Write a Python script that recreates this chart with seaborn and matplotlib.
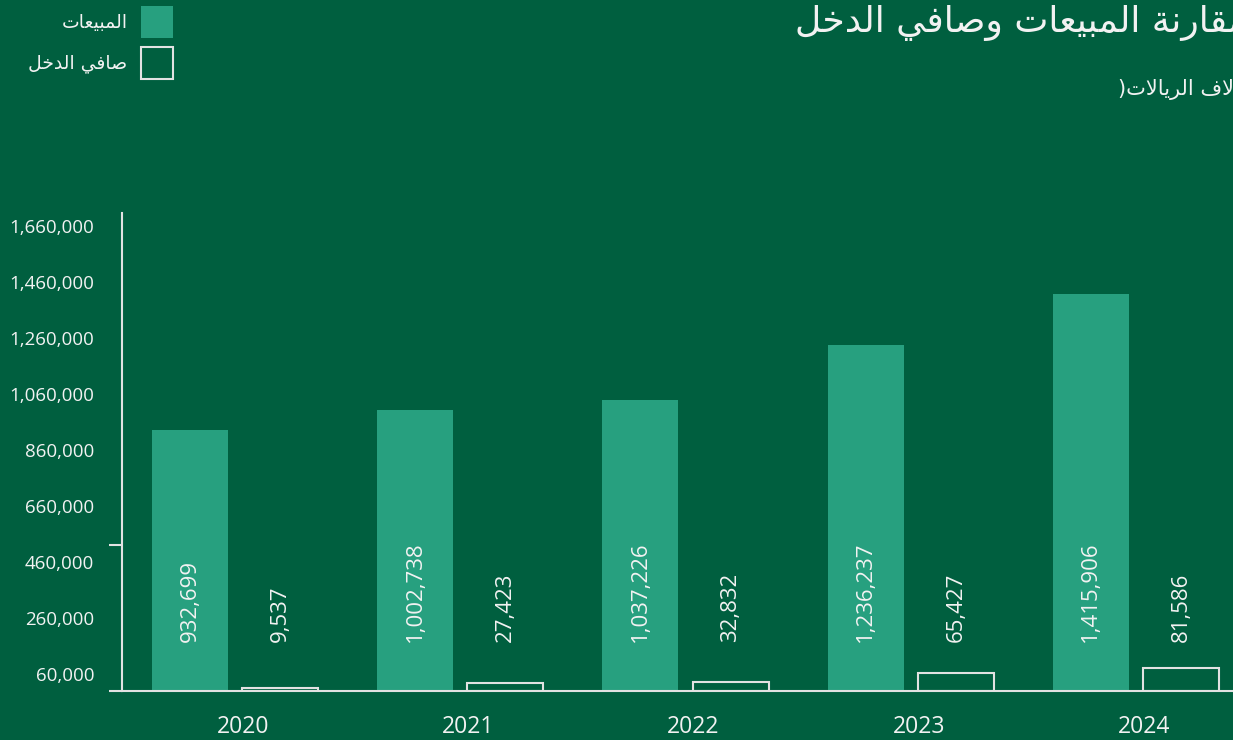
"""Sales vs net income bar chart (Arabic labels) on a dark green card."""

import matplotlib

matplotlib.use("Agg")

import matplotlib.pyplot as plt
import pandas as pd
import seaborn as sns
from matplotlib.patches import Patch
from matplotlib.ticker import FixedLocator, FuncFormatter
from matplotlib.transforms import ScaledTranslation


YEARS = ["2020", "2021", "2022", "2023", "2024"]
SALES = [932699, 1002738, 1037226, 1236237, 1415906]
NET_INCOME = [9537, 27423, 32832, 65427, 81586]
Y_TICKS = [60000, 260000, 460000, 660000, 860000, 1060000, 1260000, 1460000, 1660000]
SERIES = ["المبيعات", "صافي الدخل"]
TITLE = "مقارنة المبيعات وصافي الدخل"
SUBTITLE = "(بآلاف الريالات)"

BG = "#005F3F"
TEAL = "#27A07F"
LINE = "#E2E2E2"
TEXT = "#F2F2F2"

# matplotlib has no Arabic shaping, so map letters to presentation forms
# (isolated code point, dual-joining?) and lay them out right to left.
ARABIC_FORMS = {
    "\u0622": (0xFE81, False),
    "\u0627": (0xFE8D, False),
    "\u0628": (0xFE8F, True),
    "\u0629": (0xFE93, False),
    "\u062A": (0xFE95, True),
    "\u062E": (0xFEA5, True),
    "\u062F": (0xFEA9, False),
    "\u0631": (0xFEAD, False),
    "\u0635": (0xFEB9, True),
    "\u0639": (0xFEC9, True),
    "\u0641": (0xFED1, True),
    "\u0642": (0xFED5, True),
    "\u0644": (0xFEDD, True),
    "\u0645": (0xFEE1, True),
    "\u0646": (0xFEE5, True),
    "\u0648": (0xFEED, False),
    "\u064A": (0xFEF1, True),
}
LAM_ALEF = {"\u0627": 0xFEFB, "\u0622": 0xFEF5}


def arabic_visual(text: str) -> str:
    chars = list(text)
    out = []
    prev_joins = False
    i = 0
    while i < len(chars):
        c = chars[i]
        if c == "\u0644" and i + 1 < len(chars) and chars[i + 1] in LAM_ALEF:
            out.append(chr(LAM_ALEF[chars[i + 1]] + (1 if prev_joins else 0)))
            prev_joins = False
            i += 2
            continue
        if c not in ARABIC_FORMS:
            out.append(c)
            prev_joins = False
            i += 1
            continue
        base, dual = ARABIC_FORMS[c]
        nxt = chars[i + 1] if i + 1 < len(chars) else ""
        next_joins = dual and nxt in ARABIC_FORMS
        if prev_joins and next_joins:
            form = 3
        elif prev_joins:
            form = 1
        elif next_joins:
            form = 2
        else:
            form = 0
        out.append(chr(base + form))
        prev_joins = dual
        i += 1
    return "".join(reversed(out))


sns.set_theme(style="white", rc={"axes.facecolor": BG, "figure.facecolor": BG})
plt.rcParams["font.family"] = ["Open Sans", "DejaVu Sans"]

df = pd.DataFrame(
    {
        "year": YEARS * 2,
        "value": SALES + NET_INCOME,
        "series": [SERIES[0]] * len(YEARS) + [SERIES[1]] * len(YEARS),
    }
)

fig = plt.figure(figsize=(12.33, 7.4), dpi=100)
ax = fig.add_axes([122 / 1233, 49 / 740, 1 - 122 / 1233, 478 / 740])

sns.barplot(
    data=df, x="year", y="value", hue="series", hue_order=SERIES,
    palette=[TEAL, BG], saturation=1, width=0.8, gap=0.156, linewidth=0,
    legend=False, ax=ax,
)

for patch in ax.containers[1]:
    patch.set_facecolor("none")
    patch.set_edgecolor(LINE)
    patch.set_linewidth(1.5)

# value labels, rotated, sitting just above the baseline
for container, values in zip(ax.containers, [SALES, NET_INCOME]):
    for patch, v in zip(container, values):
        ax.text(patch.get_x() + patch.get_width() / 2, 175000, f"{v:,}",
                rotation=90, ha="center", va="bottom", color=TEXT, fontsize=16)

ax.set_xlim(-0.502, 4.431)
ax.set_ylim(0, 1706000)
ax.yaxis.set_major_locator(FixedLocator(Y_TICKS))
ax.yaxis.set_major_formatter(FuncFormatter(lambda v, _: f"{int(v):,}"))
ax.yaxis.set_minor_locator(FixedLocator([0, 520000]))
ax.set_xlabel("")
ax.set_ylabel("")

for side in ["top", "right"]:
    ax.spines[side].set_visible(False)
for side in ["left", "bottom"]:
    ax.spines[side].set_color(LINE)
    ax.spines[side].set_linewidth(1.5)

ax.tick_params(axis="y", which="major", length=0, pad=20, labelsize=13.5, labelcolor=TEXT)
ax.tick_params(axis="y", which="minor", left=True, length=9.5, width=1.5, color=LINE)
ax.tick_params(axis="x", length=0, pad=17, labelsize=16.5, labelcolor=TEXT)
shift = ScaledTranslation(8 / 100, 0, fig.dpi_scale_trans)
for label in ax.get_xticklabels():
    label.set_transform(label.get_transform() + shift)

handles = [
    Patch(facecolor=TEAL, edgecolor="none"),
    Patch(facecolor="none", edgecolor=LINE, linewidth=1.5),
]
fig.legend(
    handles, [arabic_visual(s) for s in SERIES],
    loc="upper right", bbox_to_anchor=(173 / 1233, 1 - 6 / 740),
    frameon=False, markerfirst=False, borderpad=0, borderaxespad=0,
    handlelength=1.717, handleheight=2.264, labelspacing=0.45, handletextpad=0.72,
    labelcolor=TEXT, prop={"family": ["DejaVu Sans"], "size": 13.5},
)

fig.text(1 + 14 / 1233, 1 - 23 / 740, arabic_visual(TITLE), ha="right", va="center",
         color=TEXT, fontsize=26, family=["DejaVu Sans"])
fig.text(1 + 22 / 1233, 1 - 88 / 740, arabic_visual(SUBTITLE), ha="right", va="center",
         color=TEXT, fontsize=15, family=["DejaVu Sans"])

fig.savefig("out.png", dpi=100, facecolor=BG)
